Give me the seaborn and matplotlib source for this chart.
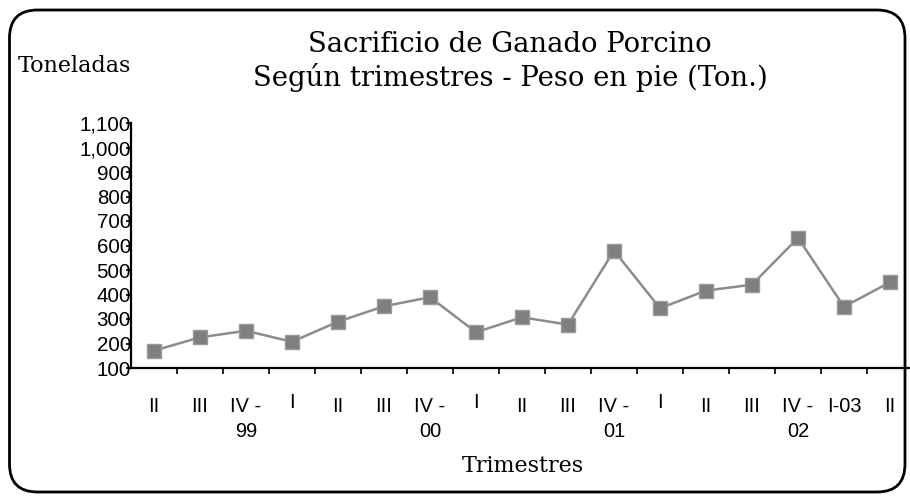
import numpy as np
import pandas as pd
import matplotlib
matplotlib.use("Agg")
import matplotlib.pyplot as plt
import matplotlib.transforms as mtransforms
from matplotlib.patches import FancyBboxPatch
import seaborn as sns

# ---- data ----
quarter_labels = ["II", "III", "IV -\n99", "I", "II", "III", "IV -\n00", "I", "II",
                  "III", "IV -\n01", "I", "II", "III", "IV -\n02", "I-03", "II"]
toneladas = [171, 225, 252, 207, 289, 352, 389, 246, 307,
             277, 579, 344, 416, 440, 631, 350, 450]
y_ticks = [100, 200, 300, 400, 500, 600, 700, 800, 900, 1000, 1100]

title_line1 = "Sacrificio de Ganado Porcino"
title_line2 = "Según trimestres - Peso en pie (Ton.)"
y_title = "Toneladas"
x_title = "Trimestres"

df = pd.DataFrame({"idx": np.arange(len(toneladas)), "ton": toneladas})

sns.set_theme(style="white")
plt.rcParams["font.family"] = ["Liberation Sans", "DejaVu Sans"]

fig = plt.figure(figsize=(9.1, 5.04), dpi=100)
fig.patch.set_facecolor("white")

# rounded border
border = FancyBboxPatch((0.095, 0.12), 9.05 - 0.095, 4.94 - 0.12,
                        boxstyle="round,pad=0,rounding_size=0.28",
                        transform=fig.dpi_scale_trans, fill=False,
                        edgecolor="black", linewidth=2, zorder=0)
fig.patches.append(border)

ax = fig.add_axes([131 / 910, 136 / 504, 782 / 910, 245 / 504])
ax.set_facecolor("none")

sns.lineplot(data=df, x="idx", y="ton", ax=ax, color="#8c8c8c", linewidth=1.8,
             marker="s", markersize=9.5, markerfacecolor="#7f7f7f",
             markeredgecolor="#9a9a9a", markeredgewidth=1.0, clip_on=False)

ax.set_xlim(-0.5, len(toneladas) - 0.5)
ax.set_ylim(100, 1100)
ax.set_yticks(y_ticks)
ax.set_yticklabels([f"{v:,}" for v in y_ticks])
ax.set_xticks(np.arange(len(quarter_labels)))
ax.set_xticklabels(quarter_labels, linespacing=1.4)
ax.set_xticks(np.arange(len(quarter_labels)) + 0.5, minor=True)

ax.tick_params(axis="y", which="major", left=True, length=3.8, width=1.2,
               color="black", direction="out", pad=-3.8, labelsize=14.8,
               labelcolor="black")
ax.tick_params(axis="x", which="major", bottom=True, length=0, pad=21,
               labelsize=14.4, labelcolor="black")
ax.tick_params(axis="x", which="minor", bottom=True, length=4.5, width=1.2,
               color="black", direction="out")

for lab in ax.get_xticklabels():
    if lab.get_text() == "I":
        lab.set_transform(lab.get_transform() +
                          mtransforms.ScaledTranslation(0, 4 / 100, fig.dpi_scale_trans))

for s in ["top", "right"]:
    ax.spines[s].set_visible(False)
for s in ["left", "bottom"]:
    ax.spines[s].set_color("black")
    ax.spines[s].set_linewidth(1.6)

ax.set_xlabel("")
ax.set_ylabel("")

serif = ["DejaVu Serif"]
fig.text(510 / 910, 1 - 45 / 504, title_line1, ha="center", va="center",
         fontsize=19.8, family=serif, color="black")
fig.text(510 / 910, 1 - 78 / 504, title_line2, ha="center", va="center",
         fontsize=19.8, family=serif, color="black")
fig.text(18 / 910, 1 - 66 / 504, y_title, ha="left", va="center",
         fontsize=16, family=serif, color="black")
fig.text(523 / 910, 1 - 466 / 504, x_title, ha="center", va="center",
         fontsize=16, family=serif, color="black")

fig.savefig("out.png", dpi=100)
